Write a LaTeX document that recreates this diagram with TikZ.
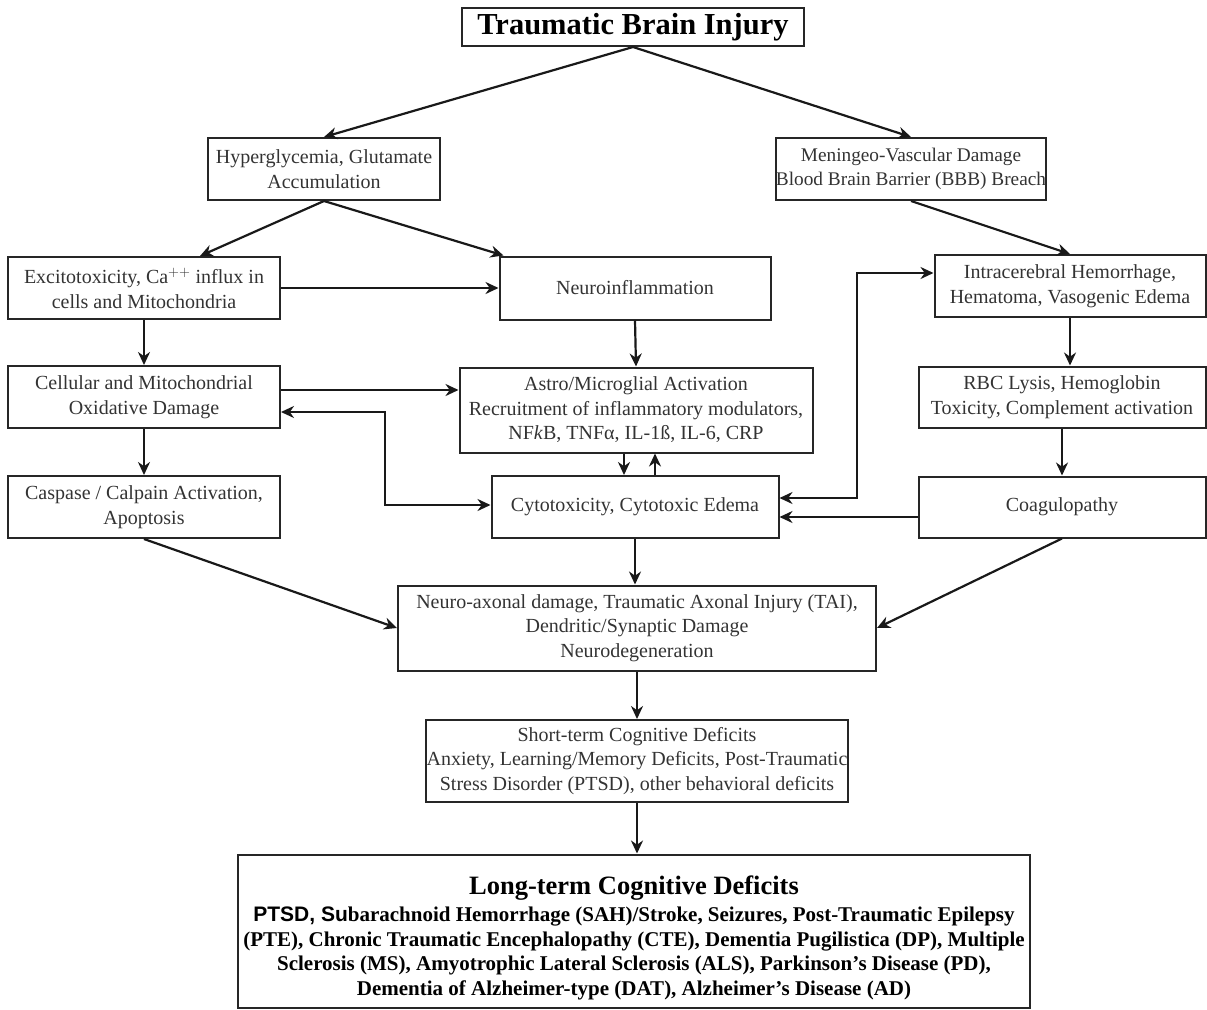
\documentclass[tikz,border=0pt]{standalone}
\usepackage{fontspec}
\setmainfont{Liberation Serif}
\setsansfont{Liberation Sans}
\usetikzlibrary{arrows.meta}
\tikzset{
  box/.style={draw=black!85, line width=2pt, align=center, inner sep=0pt,
    text=black!80, font=\fontsize{20}{24.5}\selectfont},
  flow/.style={-{Stealth[length=13pt,width=12pt]}, line width=2.2pt, draw=black!90},
  twoway/.style={{Stealth[length=13pt,width=12pt]}-{Stealth[length=13pt,width=12pt]},
    line width=2.2pt, draw=black!90}
}

\begin{document}
\begin{tikzpicture}[x=1pt, y=-1pt]
        \useasboundingbox (0,0) rectangle (1207,1009);
        % top levels
        \node[box, minimum width=342, minimum height=38, text=black,
          font=\fontsize{30.5}{32}\selectfont\bfseries] (tbi) at (633, 27) {Traumatic Brain Injury};
        \node[box, minimum width=232, minimum height=62] (hyper) at (324, 169)
          {Hyperglycemia, Glutamate\\Accumulation};
        \node[box, minimum width=270, minimum height=62, font=\fontsize{19.3}{24.5}\selectfont] (menin) at (911, 169)
          {Meningeo-Vascular Damage\\Blood Brain Barrier (BBB) Breach};
        % left column
        \node[box, minimum width=272, minimum height=62] (excit) at (144, 288)
          {Excitotoxicity, Ca$^{++}$ influx in\\cells and Mitochondria};
        \node[box, minimum width=272, minimum height=62] (cell) at (144, 397)
          {Cellular and Mitochondrial\\Oxidative Damage};
        \node[box, minimum width=272, minimum height=62] (casp) at (144, 507)
          {Caspase / Calpain Activation,\\Apoptosis};
        % middle column
        \node[box, minimum width=271, minimum height=63] (neuroinf) at (635, 288)
          {Neuroinflammation};
        \node[box, minimum width=353, minimum height=85] (astro) at (636, 410)
          {Astro/Microglial Activation\\Recruitment of inflammatory modulators,\\NF\textit{k}B, TNFα, IL-1ß, IL-6, CRP};
        \node[box, minimum width=287, minimum height=62] (cyto) at (635, 507)
          {Cytotoxicity, Cytotoxic Edema};
        % right column
        \node[box, minimum width=271, minimum height=62] (intra) at (1070, 286)
          {Intracerebral Hemorrhage,\\Hematoma, Vasogenic Edema};
        \node[box, minimum width=287, minimum height=61] (rbc) at (1062, 397)
          {RBC Lysis, Hemoglobin\\Toxicity, Complement activation};
        \node[box, minimum width=287, minimum height=61] (coag) at (1062, 507)
          {Coagulopathy};
        % outcomes
        \node[box, minimum width=478, minimum height=85] (axon) at (637, 628)
          {Neuro-axonal damage, Traumatic Axonal Injury (TAI),\\Dendritic/Synaptic Damage\\Neurodegeneration};
        \node[box, minimum width=422, minimum height=82] (short) at (637, 761)
          {Short-term Cognitive Deficits\\Anxiety, Learning/Memory Deficits, Post-Traumatic\\Stress Disorder (PTSD), other behavioral deficits};
        \node[box, minimum width=792, minimum height=153, text=black,
          font=\fontsize{21}{24.5}\selectfont\bfseries] (long) at (634, 931)
          {{\fontsize{26.5}{30}\selectfont\rule{0pt}{32pt}Long-term Cognitive Deficits}\\[3pt]
           {\sffamily PTSD, Su}barachnoid Hemorrhage (SAH)/Stroke, Seizures, Post-Traumatic Epilepsy\\
           (PTE), Chronic Traumatic Encephalopathy (CTE), Dementia Pugilistica (DP), Multiple\\
           Sclerosis (MS), Amyotrophic Lateral Sclerosis (ALS), Parkinson's Disease (PD),\\
           Dementia of Alzheimer-type (DAT), Alzheimer's Disease (AD)};
        % connectors
        \draw[flow] (tbi.south) -- (hyper.north);
        \draw[flow] (tbi.south) -- (menin.north);
        \draw[flow] (hyper.south) -- ([xshift=56pt]excit.north);
        \draw[flow] (hyper.south) -- ([xshift=5pt]neuroinf.north west);
        \draw[flow] (menin.south) -- (intra.north);
        \draw[flow] (excit.east |- 0,288) -- (neuroinf.west |- 0,288);
        \draw[flow] (excit) -- (cell);
        \draw[flow] (cell) -- (casp);
        \draw[flow] (neuroinf.south) -- (astro.north);
        \draw[flow] (cell.east |- 0,390) -- (astro.west |- 0,390);
        \draw[twoway] (cell.east |- 0,412) -| (385,505) -- (cyto.west |- 0,505);
        \draw[flow] ([xshift=-12pt]astro.south) -- ([xshift=-12pt]cyto.north -| astro.south);
        \draw[flow] ([xshift=19pt]cyto.north -| astro.south) -- ([xshift=19pt]astro.south);
        \draw[twoway] (intra.west |- 0,273) -| (857,498) -- (cyto.east |- 0,498);
        \draw[flow] (coag.west |- 0,517) -- (cyto.east |- 0,517);
        \draw[flow] (intra.south) -- (rbc.north -| intra.south);
        \draw[flow] (rbc) -- (coag);
        \draw[flow] (cyto.south) -- (axon.north -| cyto.south);
        \draw[flow] (casp.south) -- (axon.west);
        \draw[flow] (coag.south) -- (axon.east);
        \draw[flow] (axon.south) -- (short.north);
        \draw[flow] (short.south) -- (long.north -| short.south);
\end{tikzpicture}
\end{document}
